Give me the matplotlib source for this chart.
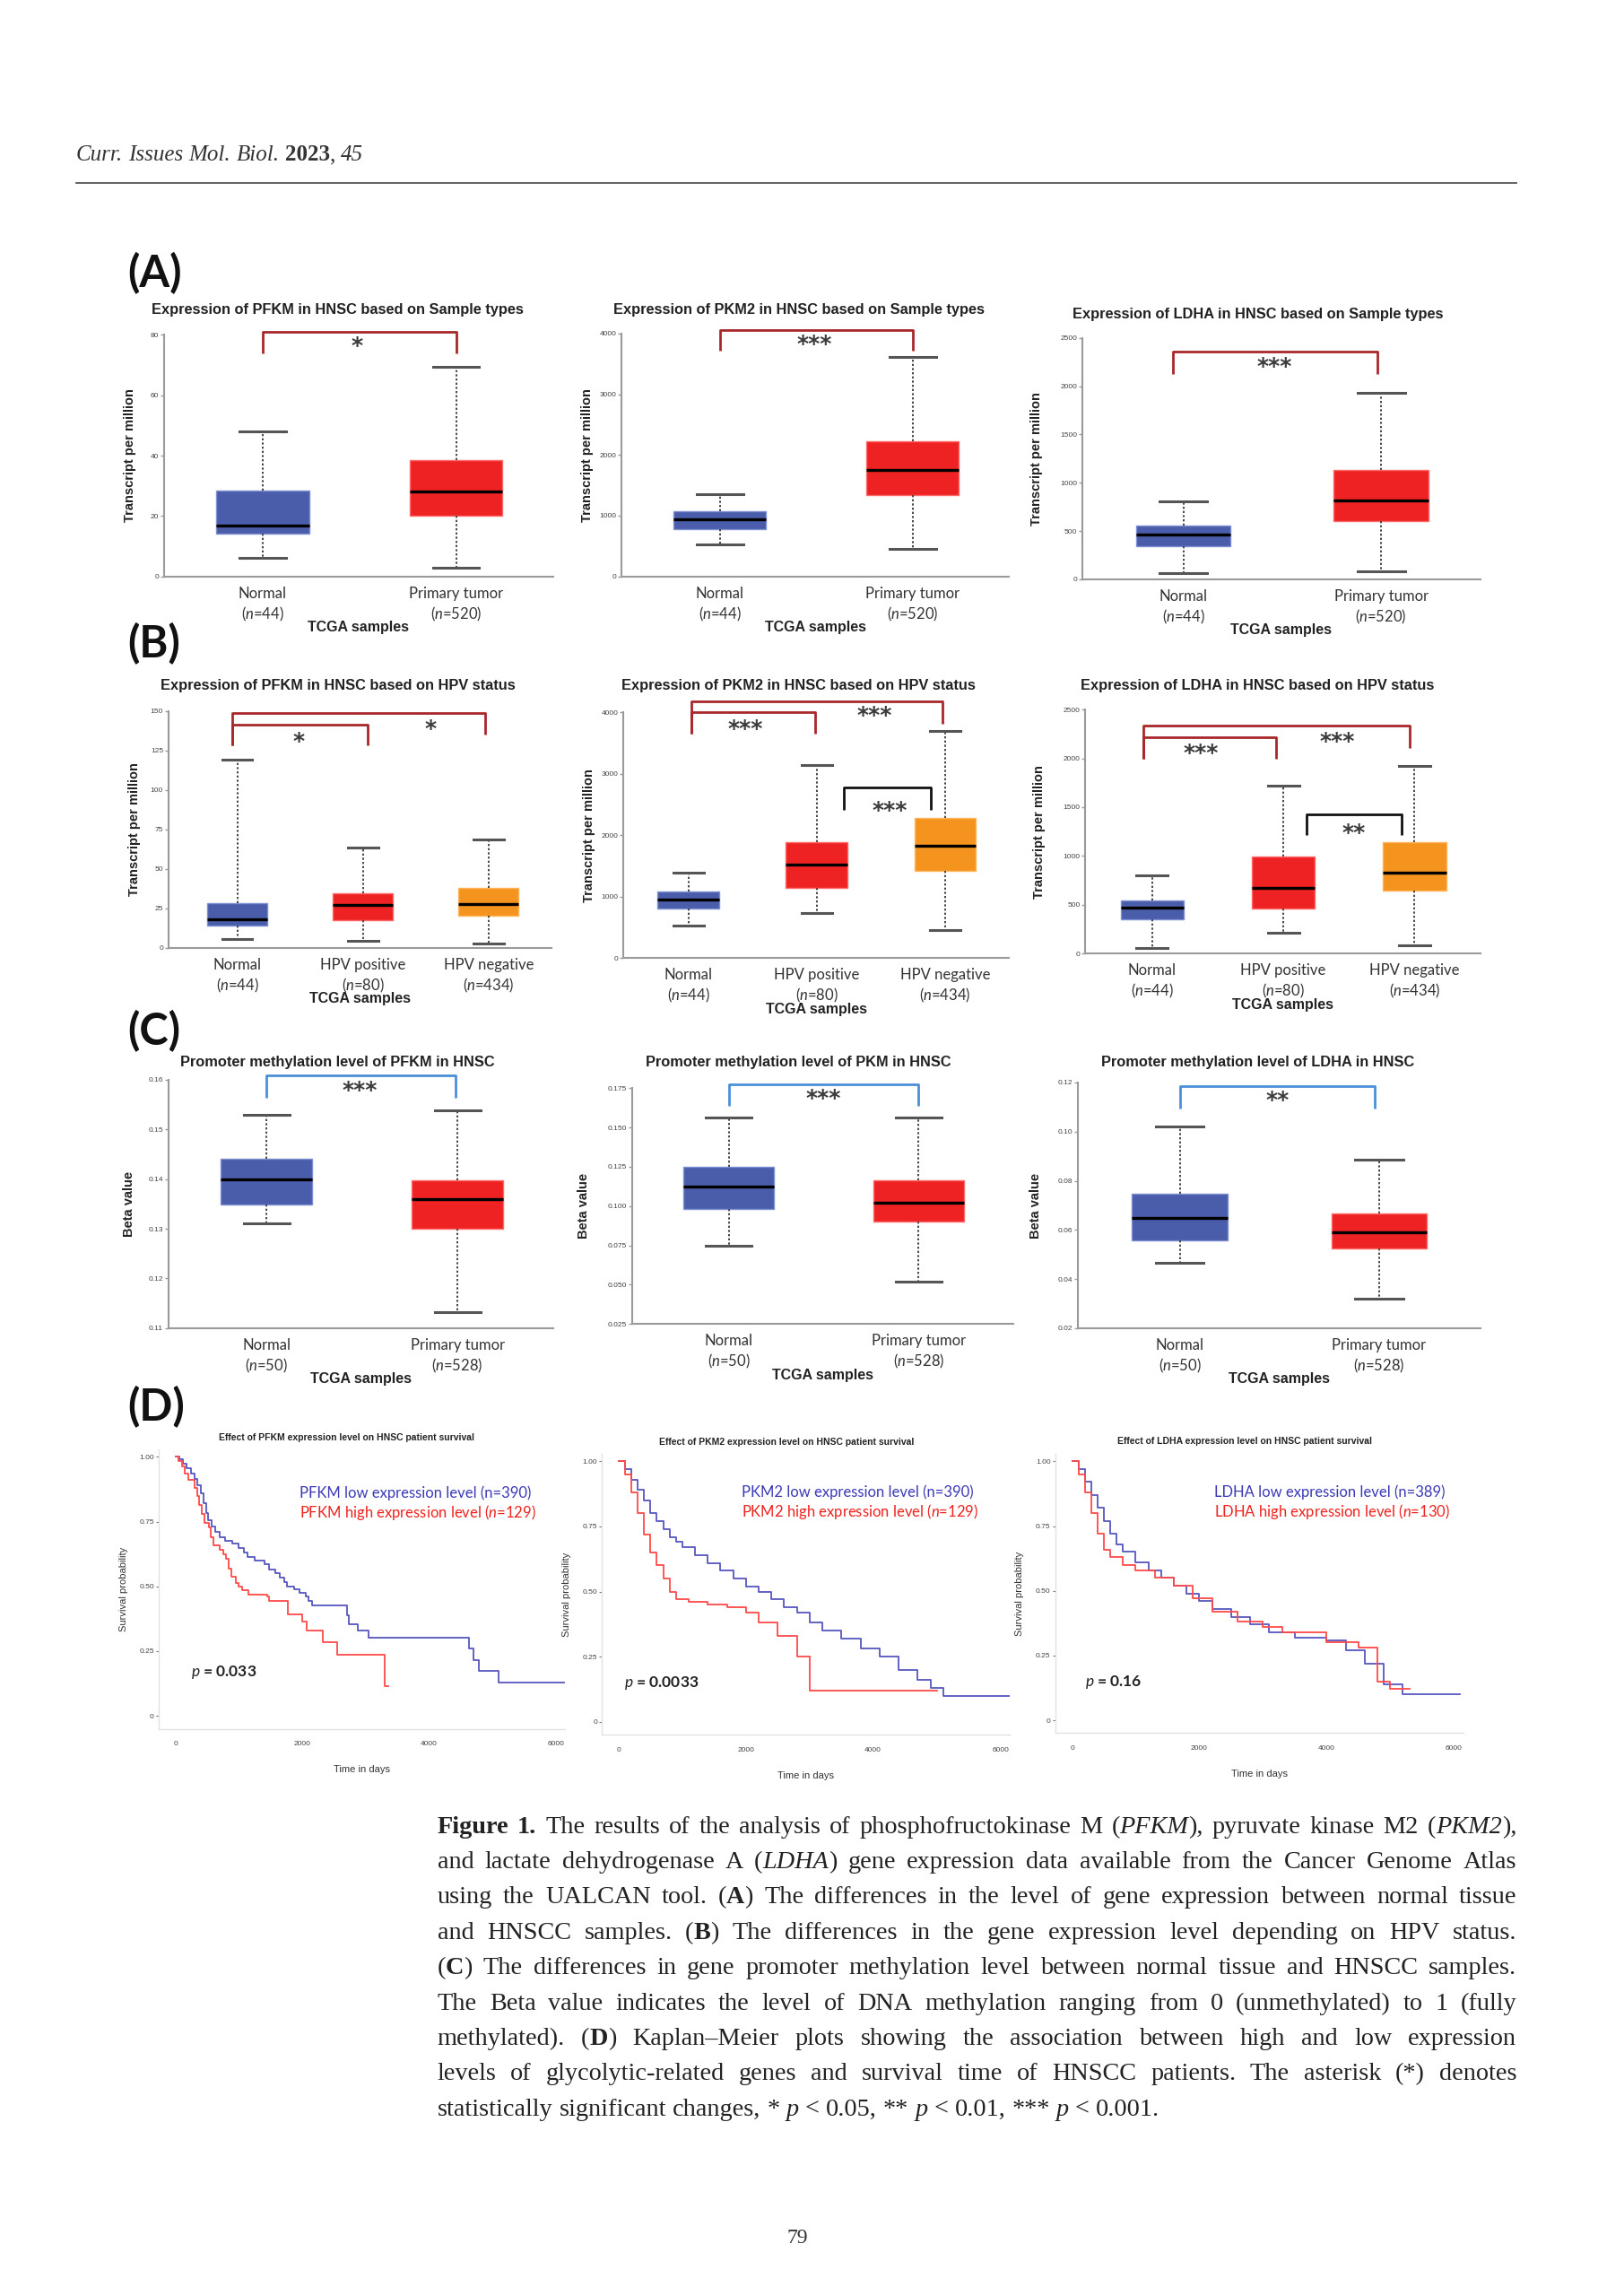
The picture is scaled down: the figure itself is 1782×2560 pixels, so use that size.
import re
import matplotlib
matplotlib.use("Agg")
import matplotlib.pyplot as plt
from matplotlib.transforms import IdentityTransform

W, H = 1783, 2560
K = 1.631  # page pixels per unit of the layout grid used below

# ---------------- data ----------------
sample_groups = ["Normal", "Primary tumor"]
hpv_groups = ["Normal", "HPV positive", "HPV negative"]
n_expr = [44, 520]
n_hpv = [44, 80, 434]
n_meth = [50, 528]

# whisker low, Q1, median, Q3, whisker high
pfkm_expr = [[6, 14.3, 16.8, 28.5, 48], [3, 20.1, 28, 38.5, 69.5]]
pkm2_expr = [[520, 780, 940, 1075, 1360], [445, 1340, 1755, 2220, 3610]]
ldha_expr = [[61, 341, 463, 552, 805], [85, 604, 817, 1134, 1927]]

pfkm_hpv = [[5.7, 14.4, 18.1, 28.6, 119], [4.2, 17.5, 27.1, 34.7, 63.7], [2.8, 20.1, 27.7, 37.8, 68.8]]
pkm2_hpv = [[533, 812, 947, 1091, 1390], [732, 1141, 1520, 1893, 3150], [453, 1420, 1829, 2277, 3697]]
ldha_hpv = [[58, 352, 471, 545, 805], [214, 462, 676, 998, 1717], [83, 643, 832, 1141, 1919]]

pfkm_meth = [[0.1310, 0.1348, 0.1400, 0.1440, 0.1529], [0.1132, 0.1300, 0.1359, 0.1398, 0.1538]]
pkm_meth = [[0.075, 0.0982, 0.1125, 0.125, 0.1565], [0.0516, 0.0899, 0.1024, 0.1163, 0.1565]]
ldha_meth = [[0.0468, 0.0558, 0.0648, 0.0746, 0.1021], [0.0319, 0.0526, 0.0589, 0.0668, 0.0887]]

# significance brackets: x left, x right, left leg end, top, right leg end, stars, colour
pfkm_expr_sig = [(1.0, 2.0, 74, 81, 74, "*", "r")]
pkm2_expr_sig = [(1.0, 2.0, 3710, 4050, 3710, "***", "r")]
ldha_expr_sig = [(0.95, 1.98, 2130, 2360, 2130, "***", "r")]
pfkm_hpv_sig = [(0.96, 2.04, 128.3, 141.5, 128.3, "*", "r"), (0.96, 2.97, 128.3, 148.5, 134.9, "*", "r")]
pkm2_hpv_sig = [(1.02, 1.99, 3652, 4011, 3652, "***", "r"), (1.02, 2.98, 3652, 4185, 3811, "***", "r"),
                (2.21, 2.89, 2416, 2785, 2416, "***", "k")]
ldha_hpv_sig = [(0.93, 1.945, 1998, 2212, 1998, "***", "r"), (0.93, 2.96, 1998, 2335, 2102, "***", "r"),
                (2.18, 2.9, 1215, 1423, 1215, "**", "k")]
pfkm_meth_sig = [(1.0, 1.99, 0.1563, 0.1609, 0.1563, "***", "b")]
pkm_meth_sig = [(1.0, 2.0, 0.1638, 0.1776, 0.1638, "***", "b")]
ldha_meth_sig = [(1.0, 1.98, 0.1095, 0.1187, 0.1095, "**", "b")]
# star label positions (x, y)
pfkm_expr_star = [(1.49, 78.5)]
pkm2_expr_star = [(1.49, 3930)]
ldha_expr_star = [(1.46, 2274)]
pfkm_hpv_star = [(1.49, 135), (2.54, 142.5)]
pkm2_hpv_star = [(1.44, 3836), (2.45, 4061), (2.57, 2516)]
ldha_hpv_star = [(1.375, 2120), (2.41, 2243), (2.54, 1300)]
pfkm_meth_star = [(1.49, 0.1592)]
pkm_meth_star = [(1.5, 0.1726)]
ldha_meth_star = [(1.49, 0.1153)]

# Kaplan-Meier curves (time in days, survival after that time)
pfkm_low_t = [0, 60, 120, 180, 250, 300, 350, 400, 440, 480, 520, 570, 630, 700, 780, 900, 1000, 1080, 1130,
              1250, 1400, 1480, 1580, 1650, 1720, 1760, 1870, 1960, 2050, 2100, 2150, 2700, 2730, 2870, 3040,
              4625, 4700, 4780, 5100, 6125]
pfkm_low_s = [1.0, 0.99, 0.975, 0.955, 0.935, 0.915, 0.89, 0.86, 0.82, 0.785, 0.755, 0.73, 0.71, 0.69, 0.675,
              0.665, 0.65, 0.63, 0.615, 0.60, 0.585, 0.565, 0.55, 0.535, 0.515, 0.50, 0.49, 0.475, 0.46, 0.445,
              0.427, 0.39, 0.353, 0.329, 0.301, 0.26, 0.214, 0.174, 0.128, 0.128]
pfkm_high_t = [0, 50, 100, 150, 200, 300, 340, 375, 420, 450, 525, 560, 600, 700, 760, 800, 840, 875, 950,
               1000, 1050, 1150, 1450, 1475, 1775, 2000, 2075, 2325, 2550, 3300, 3360]
pfkm_high_s = [1.0, 0.985, 0.963, 0.935, 0.911, 0.882, 0.85, 0.813, 0.78, 0.744, 0.727, 0.69, 0.658, 0.641,
               0.625, 0.606, 0.57, 0.537, 0.514, 0.50, 0.485, 0.468, 0.462, 0.445, 0.393, 0.364, 0.329, 0.283,
               0.237, 0.116, 0.116]
pkm2_low_t = [0, 100, 200, 300, 400, 500, 600, 700, 800, 900, 1000, 1200, 1400, 1600, 1800, 2000, 2200, 2400,
              2600, 2800, 3000, 3200, 3500, 3800, 4100, 4400, 4700, 4900, 5100, 6150]
pkm2_low_s = [1.0, 0.97, 0.93, 0.89, 0.85, 0.80, 0.77, 0.74, 0.71, 0.69, 0.67, 0.64, 0.61, 0.58, 0.55, 0.52,
              0.50, 0.47, 0.44, 0.42, 0.38, 0.35, 0.32, 0.28, 0.25, 0.20, 0.16, 0.13, 0.10, 0.10]
pkm2_high_t = [0, 100, 200, 300, 400, 500, 600, 700, 800, 900, 1100, 1400, 1700, 2000, 2200, 2500, 2800,
               3000, 5000]
pkm2_high_s = [1.0, 0.95, 0.88, 0.80, 0.72, 0.65, 0.60, 0.55, 0.50, 0.47, 0.46, 0.45, 0.44, 0.42, 0.38, 0.33,
               0.25, 0.12, 0.12]
ldha_low_t = [0, 100, 200, 300, 400, 500, 600, 700, 800, 1000, 1200, 1400, 1600, 1800, 2000, 2200, 2500, 2800,
              3100, 3500, 4000, 4300, 4600, 4900, 5200, 6100]
ldha_low_s = [1.0, 0.97, 0.92, 0.87, 0.82, 0.77, 0.72, 0.68, 0.65, 0.61, 0.58, 0.55, 0.52, 0.49, 0.46, 0.43,
              0.40, 0.37, 0.34, 0.32, 0.31, 0.27, 0.22, 0.14, 0.10, 0.10]
ldha_high_t = [0, 100, 200, 300, 400, 500, 600, 800, 1000, 1300, 1600, 1900, 2200, 2600, 3000, 3300, 4000,
               4500, 4800, 5000, 5300]
ldha_high_s = [1.0, 0.95, 0.88, 0.80, 0.72, 0.66, 0.63, 0.60, 0.58, 0.55, 0.52, 0.47, 0.42, 0.38, 0.36, 0.34,
               0.30, 0.28, 0.15, 0.12, 0.12]

caption = [
    "[b]Figure 1.[/b] The results of the analysis of phosphofructokinase M ([i]PFKM[/i]), pyruvate kinase M2 ([i]PKM2[/i]),",
    "and lactate dehydrogenase A ([i]LDHA[/i]) gene expression data available from the Cancer Genome Atlas",
    "using the UALCAN tool. ([b]A[/b]) The differences in the level of gene expression between normal tissue",
    "and HNSCC samples. ([b]B[/b]) The differences in the gene expression level depending on HPV status.",
    "([b]C[/b]) The differences in gene promoter methylation level between normal tissue and HNSCC samples.",
    "The Beta value indicates the level of DNA methylation ranging from 0 (unmethylated) to 1 (fully",
    "methylated). ([b]D[/b]) Kaplan\u2013Meier plots showing the association between high and low expression",
    "levels of glycolytic-related genes and survival time of HNSCC patients. The asterisk (*) denotes",
    "statistically significant changes, * [i]p[/i] < 0.05, ** [i]p[/i] < 0.01, *** [i]p[/i] < 0.001.",
]

# ---------------- style ----------------
plt.rcParams['font.family'] = ['Liberation Sans', 'DejaVu Sans']
plt.rcParams['mathtext.fontset'] = 'custom'
plt.rcParams['mathtext.it'] = 'Lato:italic'
plt.rcParams['mathtext.rm'] = 'Lato'

BOX_FACE = ['#4A5DAA', '#EE2222', '#F4941E']
BOX_EDGE = ['#7F90D2', '#FF6A6A', '#FFB55E']
BRACKET = {'r': '#A8282A', 'b': '#4A8FDA', 'k': '#111111'}
SERIF = 'Liberation Serif'

fig = plt.figure(figsize=(W / 100, H / 100), dpi=100)
renderer = fig.canvas.get_renderer()


def add_ax(x0, y0, x1, y1):
    x0, y0, x1, y1 = x0 * K, y0 * K, x1 * K, y1 * K
    return fig.add_axes([x0 / W, 1 - y1 / H, (x1 - x0) / W, (y1 - y0) / H])


def px_text(x, y, s, **kw):
    return fig.text(x, H - y, s, transform=IdentityTransform(), **kw)


def grid_text(x, y, s, **kw):
    return px_text(x * K, y * K, s, **kw)


def box_panel(rect, title, title_xy, vals, groups, ns, ylim, yticks, yticklabels, ylabel,
              sig, stars, xlim, ylab_dx):
    ax = add_ax(*rect)
    wpx = (rect[2] - rect[0]) * K
    stats = [dict(whislo=v[0], q1=v[1], med=v[2], q3=v[3], whishi=v[4], fliers=[]) for v in vals]
    pos = list(range(1, len(vals) + 1))
    res = ax.bxp(stats, positions=pos, widths=0.48, patch_artist=True, showfliers=False,
                 capwidths=0.24,
                 boxprops=dict(linewidth=1.0),
                 medianprops=dict(color='black', linewidth=2.4),
                 whiskerprops=dict(color='#444444', linestyle=(0, (1.2, 1.2)), linewidth=1.4),
                 capprops=dict(color='#555555', linewidth=2.2))
    for i, b in enumerate(res['boxes']):
        b.set_facecolor(BOX_FACE[i])
        b.set_edgecolor(BOX_EDGE[i])
    ax.set_xlim(*xlim)
    ax.set_ylim(*ylim)
    ax.set_yticks(yticks)
    ax.set_yticklabels(yticklabels)
    ax.set_xticks([])
    for s in ['top', 'right']:
        ax.spines[s].set_visible(False)
    for s in ['left', 'bottom']:
        ax.spines[s].set_color('#9a9a9a')
        ax.spines[s].set_linewidth(1.5)
    ax.tick_params(axis='y', length=3, width=1, color='#9a9a9a', labelsize=6, labelcolor='#444444', pad=1)
    ax.set_ylabel(ylabel, fontsize=10.5, fontweight='bold', color='#222222')
    ax.yaxis.set_label_coords(-ylab_dx / wpx, 0.5)
    for (xa, xb, la, top, lb, st, c), (sx, sy) in zip(sig, stars):
        ax.plot([xa, xa, xb, xb], [la, top, top, lb], color=BRACKET[c], lw=2.0,
                solid_joinstyle='round', solid_capstyle='butt', clip_on=False)
        ax.annotate(st, xy=(sx, sy), xytext=(0, -10.5), textcoords='offset points', ha='center',
                    va='baseline', fontsize=18, fontweight='bold', family='DejaVu Sans',
                    color='#3c3c3c', annotation_clip=False)
    tr = ax.get_xaxis_transform()
    for i, (g, n) in enumerate(zip(groups, ns)):
        ax.annotate(g, xy=(i + 1, 0), xycoords=tr, xytext=(0, -19), textcoords='offset pixels',
                    ha='center', va='center', fontsize=12, family='Lato', color='#333333')
        ax.annotate(r'($\mathit{n}$=%d)' % n, xy=(i + 1, 0), xycoords=tr, xytext=(0, -42),
                    textcoords='offset pixels', ha='center', va='center', fontsize=12, family='Lato',
                    color='#333333')
    ax.annotate('TCGA samples', xy=(0.5, 0), xycoords='axes fraction', xytext=(0, -57),
                textcoords='offset pixels', ha='center', va='center', fontsize=11.5, fontweight='bold',
                color='#222222')
    grid_text(title_xy[0], title_xy[1], title, ha='center', va='center', fontsize=11.8, fontweight='bold',
              color='#222222')
    return ax


def km_panel(ref, title, title_xy, low, high, labels, p_text, legend_xy, p_xy):
    # ref: grid x of day 0, grid x of day 6000, grid y of survival 1, grid y of survival 0
    x0, x6, y1, y0 = ref
    dx = (x6 - x0) / 6000
    dy = y0 - y1
    ax = add_ax(x0 - 260 * dx, y1 - 0.03 * dy, x0 + 6150 * dx, y0 + 0.05 * dy)
    ax.step(low[0], low[1], where='post', color='#5656BE', lw=1.3)
    ax.step(high[0], high[1], where='post', color='#FF4A4A', lw=1.3)
    ax.set_xlim(-260, 6150)
    ax.set_ylim(-0.05, 1.03)
    ax.set_xticks([0, 2000, 4000, 6000])
    ax.set_yticks([0, 0.25, 0.5, 0.75, 1.0])
    ax.set_yticklabels(['0', '0.25', '0.50', '0.75', '1.00'])
    for s in ['top', 'right']:
        ax.spines[s].set_visible(False)
    for s in ['left', 'bottom']:
        ax.spines[s].set_color('#e2e2e2')
        ax.spines[s].set_linewidth(1.0)
    ax.tick_params(length=2, width=0.8, color='#777777', labelsize=6, labelcolor='#444444', pad=2)
    ax.tick_params(axis='x', length=0, pad=10)
    ax.set_ylabel('Survival probability', fontsize=8, color='#333333', labelpad=9)
    ax.set_xlabel('Time in days', fontsize=8, color='#333333', labelpad=14)
    ax.text(legend_xy[0], legend_xy[1], labels[0], fontsize=12, family='Lato', color='#3A3AB8',
            va='center')
    ax.text(legend_xy[0], legend_xy[1] - 0.075, labels[1], fontsize=12, family='Lato', color='#EE231F',
            va='center')
    ax.text(p_xy[0], p_xy[1], r'$\mathit{p}$ = ' + p_text, fontsize=12.5, family='Lato', fontweight='bold',
            color='#222222', va='center')
    grid_text(title_xy[0], title_xy[1], title, ha='center', va='center', fontsize=7.5, fontweight='bold',
              color='#222222')
    return ax


# ---------------- panels ----------------
for lab, y in [('(A)', 187), ('(B)', 440), ('(C)', 705), ('(D)', 962)]:
    grid_text(87, y, lab, fontsize=35, fontweight='bold', family='Lato', va='center', color='#111111')

box_panel((112, 229, 378, 394), 'Expression of PFKM in HNSC based on Sample types', (231, 212), pfkm_expr,
          sample_groups, n_expr, (0, 80), [0, 20, 40, 60, 80], ['0', '20', '40', '60', '80'],
          'Transcript per million', pfkm_expr_sig, pfkm_expr_star, (0.49, 2.5), 31)
box_panel((425, 228, 690, 394), 'Expression of PKM2 in HNSC based on Sample types', (546, 212), pkm2_expr,
          sample_groups, n_expr, (0, 4000), [0, 1000, 2000, 3000, 4000],
          ['0', '1000', '2000', '3000', '4000'],
          'Transcript per million', pkm2_expr_sig, pkm2_expr_star, (0.49, 2.5), 31)
box_panel((740, 231, 1012, 396), 'Expression of LDHA in HNSC based on Sample types', (860, 215), ldha_expr,
          sample_groups, n_expr, (0, 2500), [0, 500, 1000, 1500, 2000, 2500],
          ['0', '500', '1000', '1500', '2000', '2500'],
          'Transcript per million', ldha_expr_sig, ldha_expr_star, (0.49, 2.5), 44)

box_panel((115, 486, 377, 648), 'Expression of PFKM in HNSC based on HPV status', (231, 469), pfkm_hpv,
          hpv_groups, n_hpv, (0, 150), [0, 25, 50, 75, 100, 125, 150],
          ['0', '25', '50', '75', '100', '125', '150'],
          'Transcript per million', pfkm_hpv_sig, pfkm_hpv_star, (0.45, 3.5), 31)
box_panel((426, 487, 690, 655), 'Expression of PKM2 in HNSC based on HPV status', (546, 469), pkm2_hpv,
          hpv_groups, n_hpv, (0, 4000), [0, 1000, 2000, 3000, 4000],
          ['0', '1000', '2000', '3000', '4000'],
          'Transcript per million', pkm2_hpv_sig, pkm2_hpv_star, (0.49, 3.5), 31)
box_panel((742, 485, 1012, 652), 'Expression of LDHA in HNSC based on HPV status', (860, 469), ldha_hpv,
          hpv_groups, n_hpv, (0, 2500), [0, 500, 1000, 1500, 2000, 2500],
          ['0', '500', '1000', '1500', '2000', '2500'],
          'Transcript per million', ldha_hpv_sig, ldha_hpv_star, (0.49, 3.5), 44)

box_panel((115, 738, 378, 908), 'Promoter methylation level of PFKM in HNSC', (231, 726), pfkm_meth,
          sample_groups, n_meth, (0.11, 0.16), [0.11, 0.12, 0.13, 0.14, 0.15, 0.16],
          ['0.11', '0.12', '0.13', '0.14', '0.15', '0.16'],
          'Beta value', pfkm_meth_sig, pfkm_meth_star, (0.485, 2.5), 37)
box_panel((432, 744, 693, 905), 'Promoter methylation level of PKM in HNSC', (546, 726), pkm_meth,
          sample_groups, n_meth, (0.025, 0.175), [0.025, 0.05, 0.075, 0.1, 0.125, 0.15, 0.175],
          ['0.025', '0.050', '0.075', '0.100', '0.125', '0.150', '0.175'],
          'Beta value', pkm_meth_sig, pkm_meth_star, (0.49, 2.5), 47)
box_panel((737, 740, 1012, 908), 'Promoter methylation level of LDHA in HNSC', (860, 726), ldha_meth,
          sample_groups, n_meth, (0.02, 0.12), [0.02, 0.04, 0.06, 0.08, 0.10, 0.12],
          ['0.02', '0.04', '0.06', '0.08', '0.10', '0.12'],
          'Beta value', ldha_meth_sig, ldha_meth_star, (0.488, 2.507), 40)

km_panel((120, 380, 996, 1173), 'Effect of PFKM expression level on HNSC patient survival', (237, 983),
         (pfkm_low_t, pfkm_low_s), (pfkm_high_t, pfkm_high_s),
         ['PFKM low expression level (n=390)', r'PFKM high expression level ($\mathit{n}$=129)'],
         '0.033', (1950, 0.86), (250, 0.17))
km_panel((423, 684, 999, 1177), 'Effect of PKM2 expression level on HNSC patient survival', (538, 986),
         (pkm2_low_t, pkm2_low_s), (pkm2_high_t, pkm2_high_s),
         ['PKM2 low expression level (n=390)', r'PKM2 high expression level ($\mathit{n}$=129)'],
         '0.0033', (1930, 0.88), (90, 0.15))
km_panel((733, 994, 999, 1176), 'Effect of LDHA expression level on HNSC patient survival', (851, 985),
         (ldha_low_t, ldha_low_s), (ldha_high_t, ldha_high_s),
         ['LDHA low expression level (n=389)', r'LDHA high expression level ($\mathit{n}$=130)'],
         '0.16', (2230, 0.88), (207, 0.147))


# ---------------- page text ----------------
def parse_words(line):
    runs = []
    for m in re.finditer(r'\[(b|i)\](.*?)\[/\1\]|([^\[]+)', line):
        if m.group(3) is not None:
            runs.append((m.group(3), 'n'))
        else:
            runs.append((m.group(2), m.group(1)))
    words = [[]]
    for txt, st in runs:
        for k, piece in enumerate(txt.split(' ')):
            if k > 0:
                words.append([])
            if piece:
                words[-1].append((piece, st))
    return [w for w in words if w]


def draw_line(x0, baseline, line, size, width=None, color='#222222'):
    words = parse_words(line)
    placed, widths = [], []
    for w in words:
        off, items = 0, []
        for txt, st in w:
            t = px_text(0, 0, txt, fontsize=size, family=SERIF, color=color, va='baseline',
                        fontweight='bold' if st == 'b' else 'normal',
                        fontstyle='italic' if st == 'i' else 'normal')
            items.append((t, off))
            off += t.get_window_extent(renderer).width
        placed.append(items)
        widths.append(off)
    probe1 = px_text(0, 0, 'a a', fontsize=size, family=SERIF)
    probe2 = px_text(0, 0, 'aa', fontsize=size, family=SERIF)
    space = probe1.get_window_extent(renderer).width - probe2.get_window_extent(renderer).width
    probe1.remove()
    probe2.remove()
    gap = space if width is None else (width - sum(widths)) / (len(words) - 1)
    x = x0
    for items, ww in zip(placed, widths):
        for t, off in items:
            t.set_position((x + off, H - baseline))
        x += ww + gap


draw_line(52 * K, 110 * K, '[i]Curr. Issues Mol. Biol.[/i] [b]2023[/b], [i]45[/i]', 18, color='#333333')
fig.add_artist(plt.Line2D([52 * K / W, 1037 * K / W], [1 - 125 * K / H, 1 - 125 * K / H],
                          color='#555555', lw=1.3))

for k, line in enumerate(caption):
    last = k == len(caption) - 1
    draw_line(299 * K, (1253 + 24.15 * k) * K, line, 20.3, None if last else (1037 - 299) * K)

grid_text(545, 1530, '79', fontsize=17, family=SERIF, ha='center', va='center', color='#333333')

fig.savefig('out.png', dpi=100)
